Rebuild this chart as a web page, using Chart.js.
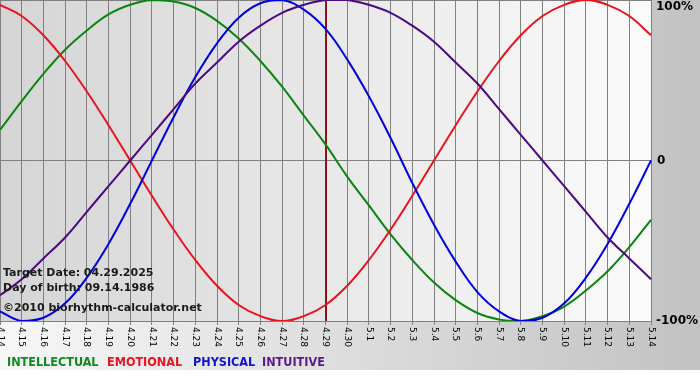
<!DOCTYPE html>
<html>
<head>
<meta charset="utf-8">
<script src="https://cdn.jsdelivr.net/npm/chart.js@4"></script>
<style>
  html, body { margin:0; padding:0; background:#fff; }
  #wrap { width:700px; height:380px; }
</style>
</head>
<body>
<div id="wrap"><canvas id="bio" width="700" height="380"></canvas></div>
<script>
// days shown (month.day)
const dayLabels = ['4.14','4.15','4.16','4.17','4.18','4.19','4.20','4.21','4.22','4.23','4.24','4.25','4.26','4.27','4.28','4.29','4.30',
  '5.1','5.2','5.3','5.4','5.5','5.6','5.7','5.8','5.9','5.10','5.11','5.12','5.13','5.14'];

const intellectual = [0.19,0.37,0.54,0.69,0.81,0.91,0.97,1.00,0.99,0.95,0.87,0.76,0.62,0.46,0.28,0.10,-0.10,
  -0.28,-0.46,-0.62,-0.76,-0.87,-0.95,-0.99,-1.00,-0.97,-0.91,-0.81,-0.69,-0.54,-0.37];
const emotional = [0.97,0.90,0.78,0.62,0.43,0.22,0.00,-0.22,-0.43,-0.62,-0.78,-0.90,-0.97,-1.00,-0.97,-0.90,-0.78,
  -0.62,-0.43,-0.22,0.00,0.22,0.43,0.62,0.78,0.90,0.97,1.00,0.97,0.90,0.78];
const physical = [-0.94,-1.00,-0.98,-0.89,-0.73,-0.52,-0.27,0.00,0.27,0.52,0.73,0.89,0.98,1.00,0.94,0.82,0.63,
  0.40,0.14,-0.14,-0.40,-0.63,-0.82,-0.94,-1.00,-0.98,-0.89,-0.73,-0.52,-0.27,0.00];
const intuitive = [-0.84,-0.74,-0.61,-0.48,-0.32,-0.16,0.00,0.16,0.32,0.48,0.61,0.74,0.84,0.92,0.97,1.00,1.00,
  0.97,0.92,0.84,0.74,0.61,0.48,0.32,0.16,0.00,-0.16,-0.32,-0.48,-0.61,-0.74];

const yTicks = [-1, 0, 1];
const yTickLabels = ['-100%', '0', '100%'];
const targetDay = '4.29';
const infoLines = ['Target Date: 04.29.2025', 'Day of birth: 09.14.1986', '\u00a92010 biorhythm-calculator.net'];
const legendNames = ['INTELLECTUAL', 'EMOTIONAL', 'PHYSICAL', 'INTUITIVE'];
const legendColors = ['#0f8a1e', '#ee1122', '#1414cc', '#5a1888'];

const GRID = '#808080';

// backgrounds, target marker, custom labels
const bioDecor = {
  id: 'bioDecor',
  beforeDraw(chart) {
    const { ctx, chartArea: a, width, height } = chart;
    ctx.save();
    ctx.fillStyle = '#fff';
    ctx.fillRect(0, 0, width, height);
    let g = ctx.createLinearGradient(0, 0, width, 0);
    g.addColorStop(0, '#f7f7f7');
    g.addColorStop(1, '#c2c2c2');
    ctx.fillStyle = g;
    ctx.fillRect(0, 0, width, 370);
    g = ctx.createLinearGradient(a.left, 0, a.right, 0);
    g.addColorStop(0, '#d5d5d5');
    g.addColorStop(1, '#fbfbfb');
    ctx.fillStyle = g;
    ctx.fillRect(a.left, a.top, a.right - a.left, a.bottom - a.top);
    ctx.restore();
  },
  beforeDatasetsDraw(chart) {
    const { ctx, chartArea: a, scales } = chart;
    const x = Math.round(scales.x.getPixelForValue(dayLabels.indexOf(targetDay)));
    ctx.save();
    ctx.fillStyle = '#8a1515';
    ctx.fillRect(x - 1, a.top, 2, a.bottom - a.top);
    ctx.restore();
  },
  afterDraw(chart) {
    const { ctx, chartArea: a, scales } = chart;
    ctx.save();
    // x labels, rotated to read downwards
    ctx.fillStyle = '#000';
    ctx.font = '9px "DejaVu Sans", Verdana, sans-serif';
    ctx.textAlign = 'left';
    ctx.textBaseline = 'middle';
    dayLabels.forEach((lb, i) => {
      const x = scales.x.getPixelForValue(i);
      ctx.save();
      ctx.translate(x, a.bottom + 6);
      ctx.rotate(Math.PI / 2);
      ctx.fillText(lb, 0, 0);
      ctx.restore();
    });
    // right-hand percent labels
    ctx.font = 'bold 12px "DejaVu Sans", Verdana, sans-serif';
    yTicks.forEach((v, i) => {
      let y = scales.y.getPixelForValue(v);
      if (v === 1) y += 7;
      ctx.fillText(yTickLabels[i], a.right + (v === 0 ? 6 : 5), y);
    });
    // info block
    ctx.fillStyle = '#1a1a1a';
    ctx.font = 'bold 11px "DejaVu Sans", Verdana, sans-serif';
    ctx.textBaseline = 'alphabetic';
    [276, 291, 311].forEach((y, i) => ctx.fillText(infoLines[i], 3, y));
    // legend row
    ctx.font = 'bold 12.5px "DejaVu Sans Condensed", "DejaVu Sans", sans-serif';
    ctx.textBaseline = 'middle';
    const starts = [7, 107, 193, 262];
    legendNames.forEach((n, i) => {
      ctx.fillStyle = legendColors[i];
      ctx.fillText(n, starts[i], 362.5);
    });
    ctx.restore();
  }
};

const mkSet = (label, data, color) => ({
  label, data, borderColor: color, borderWidth: 2, pointRadius: 0, tension: 0.4, fill: false
});

new Chart(document.getElementById('bio'), {
  type: 'line',
  data: {
    labels: dayLabels,
    datasets: [
      mkSet('INTUITIVE', intuitive, '#4b0a80'),
      mkSet('PHYSICAL', physical, '#0000dd'),
      mkSet('EMOTIONAL', emotional, '#e8141c'),
      mkSet('INTELLECTUAL', intellectual, '#0a860f')
    ]
  },
  options: {
    responsive: false,
    animation: false,
    layout: { padding: 0 },
    plugins: { legend: { display: false }, tooltip: { enabled: false } },
    scales: {
      x: {
        offset: false,
        grid: { color: GRID, lineWidth: 1, tickLength: 4, drawTicks: true },
        border: { color: GRID },
        ticks: { display: false, autoSkip: false },
        afterFit: s => { s.height = 59; }
      },
      y: {
        position: 'right',
        min: -1, max: 1,
        afterBuildTicks: s => { s.ticks = yTicks.map(v => ({ value: v })); },
        grid: { color: GRID, lineWidth: 1, drawTicks: false },
        border: { display: false },
        ticks: { display: false },
        afterFit: s => { s.width = 49; }
      }
    }
  },
  plugins: [bioDecor]
});
</script>
</body>
</html>
